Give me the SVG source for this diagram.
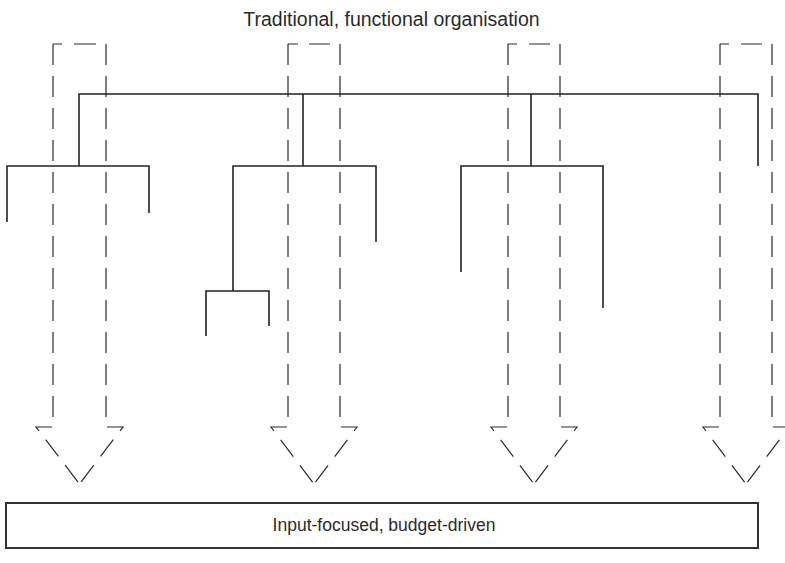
<svg xmlns="http://www.w3.org/2000/svg" width="785" height="563" viewBox="0 0 785 563">
<style>
.txt{font-family:"Liberation Sans",Arial,sans-serif;fill:#2a2a2a;text-anchor:middle}
.dash{fill:none;stroke:#2a2a2a;stroke-width:1.2;stroke-dasharray:21 11}
.solid{fill:none;stroke:#2a2a2a;stroke-width:1.2}
.tree{fill:none;stroke:#222;stroke-width:1.6}
.box{fill:#fff;stroke:#333;stroke-width:2}
</style>
<rect width="785" height="563" fill="#fff"/>
<g id="title"><text class="txt" x="391.5" y="26" font-size="19.5">Traditional, functional organisation</text></g>
<g id="arrow1">
<path class="dash" d="M53,44 V427 H36 L79.5,484"/>
<path class="dash" d="M106,44 V427 H123 L79.5,484"/>
<path class="solid" d="M53,44 H62 M74,44 H96"/>
</g>
<g id="arrow2">
<path class="dash" d="M288,44 V427 H271 L314,484"/>
<path class="dash" d="M340,44 V427 H357 L314,484"/>
<path class="solid" d="M288,44 H298 M309,44 H330"/>
</g>
<g id="arrow3">
<path class="dash" d="M508,44 V427 H491 L534,484"/>
<path class="dash" d="M560,44 V427 H577 L534,484"/>
<path class="solid" d="M508,44 H517 M529,44 H550"/>
</g>
<g id="arrow4">
<path class="dash" d="M720,44 V427 H703 L746,484"/>
<path class="dash" d="M772,44 V427 H789 L746,484"/>
<path class="solid" d="M720,44 H729 M741,44 H762"/>
</g>
<g id="connectors">
<path class="tree" d="M79,166 V94 H758 V166"/>
<path class="tree" d="M7,222 V166 H149 V213"/>
<path class="tree" d="M303,94 V166"/>
<path class="tree" d="M233,291 V166 H376 V242"/>
<path class="tree" d="M206,336 V291 H269 V326"/>
<path class="tree" d="M531,94 V166"/>
<path class="tree" d="M461,272 V166 H603 V308"/>
</g>
<g id="output-box">
<rect class="box" x="6" y="503" width="752" height="45"/>
<text class="txt" x="384" y="530.5" font-size="17.5">Input-focused, budget-driven</text>
</g>
</svg>
